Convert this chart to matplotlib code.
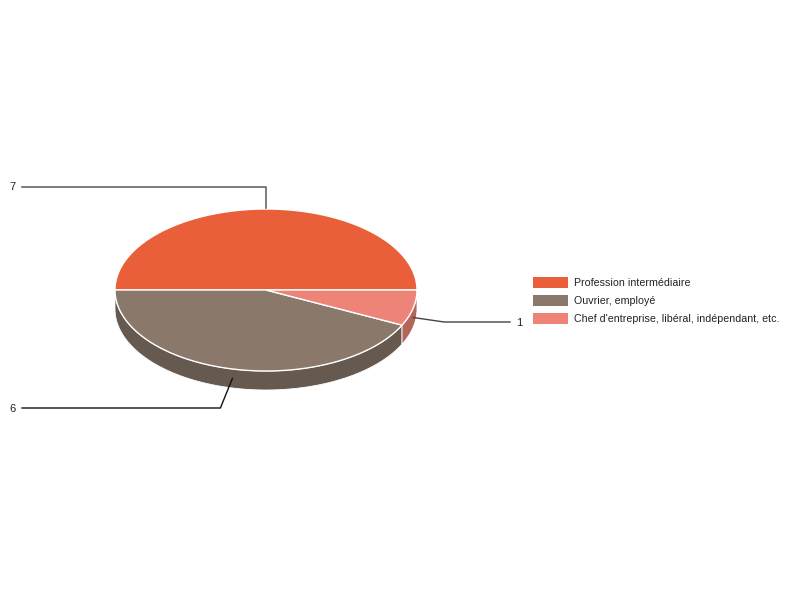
import numpy as np
import matplotlib
matplotlib.use("Agg")
import matplotlib.pyplot as plt
from matplotlib.patches import Polygon, Rectangle

plt.rcParams['font.family'] = ['Liberation Sans', 'DejaVu Sans']

labels = ["Profession intermédiaire", "Ouvrier, employé",
          "Chef d'entreprise, libéral, indépendant, etc."]
values = [7, 6, 1]
colors = ['#E95F39', '#8A786B', '#EE8477']
side_colors = ['#A8442A', '#665950', '#B36559']

fig = plt.figure(figsize=(8, 6), dpi=100)
ax = fig.add_axes([0, 0, 1, 1])
ax.set_xlim(0, 800)
ax.set_ylim(600, 0)
ax.axis('off')

cx, cy, rx, ry, depth = 266, 290, 151, 81, 19

def pt(theta_deg, dy=0.0):
    t = np.radians(theta_deg)
    return cx + rx * np.cos(t), cy - ry * np.sin(t) + dy

total = sum(values)
angles = [0.0]
for v in values:
    angles.append(angles[-1] + 360.0 * v / total)

# side walls (front half: 180..360)
for i in range(len(values)):
    a0, a1 = angles[i], angles[i + 1]
    s0, s1 = max(a0, 180), min(a1, 360)
    if s1 <= s0:
        continue
    th = np.linspace(s0, s1, 100)
    top = [pt(t) for t in th]
    bot = [pt(t, depth) for t in th[::-1]]
    ax.add_patch(Polygon(top + bot, closed=True, facecolor=side_colors[i],
                         edgecolor='white', linewidth=0.6, zorder=2))

# top faces
for i in range(len(values)):
    a0, a1 = angles[i], angles[i + 1]
    th = np.linspace(a0, a1, 200)
    pts = [(cx, cy)] + [pt(t) for t in th]
    ax.add_patch(Polygon(pts, closed=True, facecolor=colors[i],
                         edgecolor='white', linewidth=1.0, zorder=3))

# leader lines and value labels
mids = [(angles[i] + angles[i + 1]) / 2 for i in range(len(values))]
x0, y0 = pt(mids[0])
ax.plot([x0, x0, 22], [y0 - 1, 187, 187], color='#666666', lw=1.2, zorder=4)
ax.text(16, 187.5, str(values[0]), ha='right', va='center', fontsize=8, color='#222222')
x1, y1 = pt(mids[1], depth / 2)
ax.plot([x1, x1 - 12, 22], [y1, 408, 408], color='#111111', lw=1.0, zorder=4)
ax.text(16, 408.5, str(values[1]), ha='right', va='center', fontsize=8, color='#222222')
x2, y2 = pt(mids[2], depth / 2)
ax.plot([x2, x2 + 31, 510], [y2, 322, 322], color='#444444', lw=1.0, zorder=4)
ax.text(516, 322.5, str(values[2]), ha='left', va='center', fontsize=8, color='#222222')

# legend
for i, lab in enumerate(labels):
    yc = 282 + i * 18.2
    ax.add_patch(Rectangle((533, yc - 5.5), 35, 11, facecolor=colors[i],
                           edgecolor='none', zorder=3))
    ax.text(574, yc + 0.5, lab, ha='left', va='center', fontsize=7.7, color='#222222')

fig.savefig('out.png', dpi=100)
